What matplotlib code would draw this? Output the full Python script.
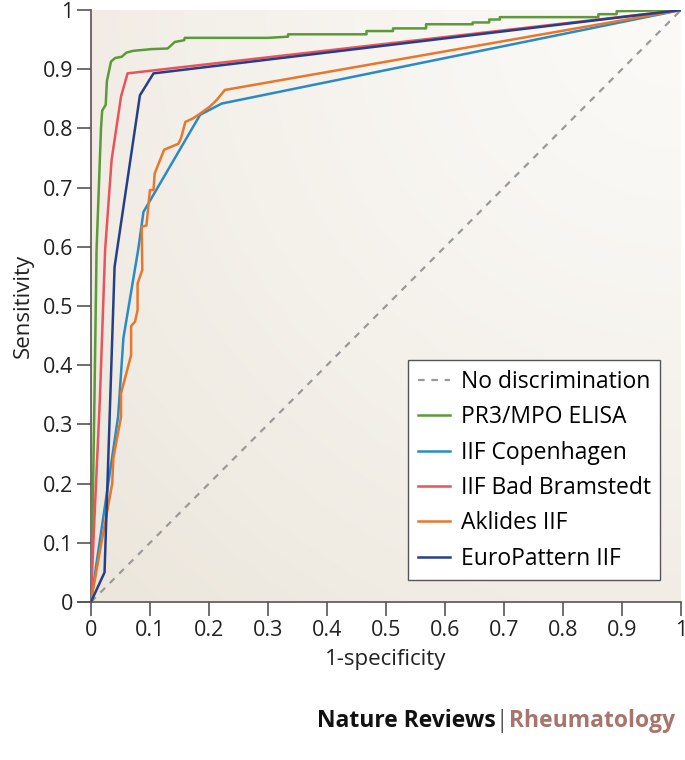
import numpy as np
import matplotlib.pyplot as plt

# ==========================
# DATA
# ==========================

elisa_x = [0, 0.002, 0.006, 0.0095, 0.017, 0.019, 0.025, 0.027, 0.034, 0.041, 0.052, 0.06,
           0.071, 0.103, 0.13, 0.142, 0.158, 0.159, 0.30, 0.334, 0.334, 0.467, 0.467, 0.512,
           0.512, 0.568, 0.568, 0.647, 0.647, 0.675, 0.675, 0.693, 0.693, 0.86, 0.86, 0.891,
           0.891, 1.0]
elisa_y = [0, 0.1, 0.35, 0.595, 0.80, 0.83, 0.84, 0.88, 0.913, 0.919, 0.921, 0.928,
           0.931, 0.934, 0.935, 0.946, 0.949, 0.953, 0.953, 0.955, 0.959, 0.959, 0.9645, 0.9645,
           0.969, 0.969, 0.976, 0.976, 0.979, 0.979, 0.984, 0.984, 0.988, 0.988, 0.993, 0.993,
           0.998, 1.0]

copenhagen_x = [0, 0.012, 0.046, 0.055, 0.080, 0.089, 0.185, 0.2215, 1.0]
copenhagen_y = [0, 0.083, 0.313, 0.446, 0.595, 0.659, 0.823, 0.842, 1.0]

bramstedt_x = [0, 0.004, 0.015, 0.024, 0.035, 0.051, 0.062, 1.0]
bramstedt_y = [0, 0.10, 0.34, 0.595, 0.747, 0.854, 0.893, 1.0]

aklides_x = [0, 0.015, 0.036, 0.038, 0.051, 0.051, 0.068, 0.068, 0.0746, 0.079, 0.079, 0.087,
             0.086, 0.094, 0.10, 0.106, 0.108, 0.124, 0.148, 0.1525, 0.16, 0.173, 0.185,
             0.2017, 0.213, 0.227, 1.0]
aklides_y = [0, 0.085, 0.20, 0.243, 0.313, 0.3525, 0.417, 0.466, 0.4735, 0.493, 0.538, 0.561,
             0.634, 0.636, 0.696, 0.696, 0.724, 0.764, 0.774, 0.783, 0.811, 0.817, 0.825,
             0.837, 0.848, 0.865, 1.0]

europattern_x = [0, 0.023, 0.04, 0.083, 0.106, 1.0]
europattern_y = [0, 0.05, 0.566, 0.856, 0.893, 1.0]

ticks = [0, 0.1, 0.2, 0.3, 0.4, 0.5, 0.6, 0.7, 0.8, 0.9, 1]
tick_labels = ["0", "0.1", "0.2", "0.3", "0.4", "0.5", "0.6", "0.7", "0.8", "0.9", "1"]

# ==========================
# FIGURE
# ==========================

plt.rcParams["font.family"] = ["Open Sans", "DejaVu Sans"]

fig = plt.figure(figsize=(6.85, 7.6), dpi=100)
ax = fig.add_axes([0.1328, 0.2079, 0.8613, 0.7789])

# soft radial background (light at top right, beige at bottom left)
gx, gy = np.meshgrid(np.linspace(0, 1, 300), np.linspace(0, 1, 300))
dist = np.sqrt((1 - gx) ** 2 + (1 - gy) ** 2) / np.sqrt(2)
light = np.array([0.985, 0.980, 0.970])
dark = np.array([0.925, 0.902, 0.860])
img = light + (dark - light) * dist[..., None] ** 1.3
ax.imshow(img, extent=[0, 1, 0, 1], origin="lower", aspect="auto", zorder=0)

ax.plot([0, 1], [0, 1], linestyle=(0, (3, 3)), color="#9a9a9a", linewidth=1.6,
        label="No discrimination", zorder=2)
ax.plot(elisa_x, elisa_y, color="#5a9a38", linewidth=1.8, label="PR3/MPO ELISA", zorder=3)
ax.plot(copenhagen_x, copenhagen_y, color="#2a8ac6", linewidth=1.8, label="IIF Copenhagen", zorder=3)
ax.plot(bramstedt_x, bramstedt_y, color="#e8535c", linewidth=1.8, label="IIF Bad Bramstedt", zorder=3)
ax.plot(aklides_x, aklides_y, color="#e8772c", linewidth=1.8, label="Aklides IIF", zorder=3)
ax.plot(europattern_x, europattern_y, color="#263f86", linewidth=1.8, label="EuroPattern IIF", zorder=4)

ax.set_xlim(0, 1)
ax.set_ylim(0, 1)
ax.set_xticks(ticks)
ax.set_xticklabels(tick_labels)
ax.set_yticks(ticks)
ax.set_yticklabels(tick_labels)

for s in ["top", "right"]:
    ax.spines[s].set_visible(False)
for s in ["left", "bottom"]:
    ax.spines[s].set_color("#555555")
    ax.spines[s].set_linewidth(1.2)
ax.spines["bottom"].set_bounds(-0.022, 1)
ax.spines["bottom"].set_clip_on(False)

ax.tick_params(axis="both", direction="out", length=10, width=1.2, color="#555555",
               labelsize=15.5, labelcolor="#222222", pad=3)

ax.set_xlabel("1-specificity", fontsize=16, color="#222222", labelpad=6)
ax.set_ylabel("Sensitivity", fontsize=16, color="#222222", labelpad=6)

leg = ax.legend(loc="lower right", bbox_to_anchor=(0.965, 0.037), fontsize=16.5,
                frameon=True, fancybox=False, handlelength=1.4, handletextpad=0.5,
                labelspacing=0.5, borderpad=0.4, borderaxespad=0)
leg.get_frame().set_edgecolor("#555555")
leg.get_frame().set_linewidth(1.0)
leg.get_frame().set_facecolor("white")
leg.get_frame().set_alpha(1)

# journal footer
fig.text(0.723, 0.044, "Nature Reviews", ha="right", va="baseline",
         fontsize=16.5, fontweight="bold", color="#111111")
fig.text(0.733, 0.044, "|", ha="center", va="baseline", fontsize=16.5, color="#555555")
fig.text(0.743, 0.044, "Rheumatology", ha="left", va="baseline",
         fontsize=16.5, fontweight="bold", color="#a8756c")

plt.savefig("out.png", dpi=100)
